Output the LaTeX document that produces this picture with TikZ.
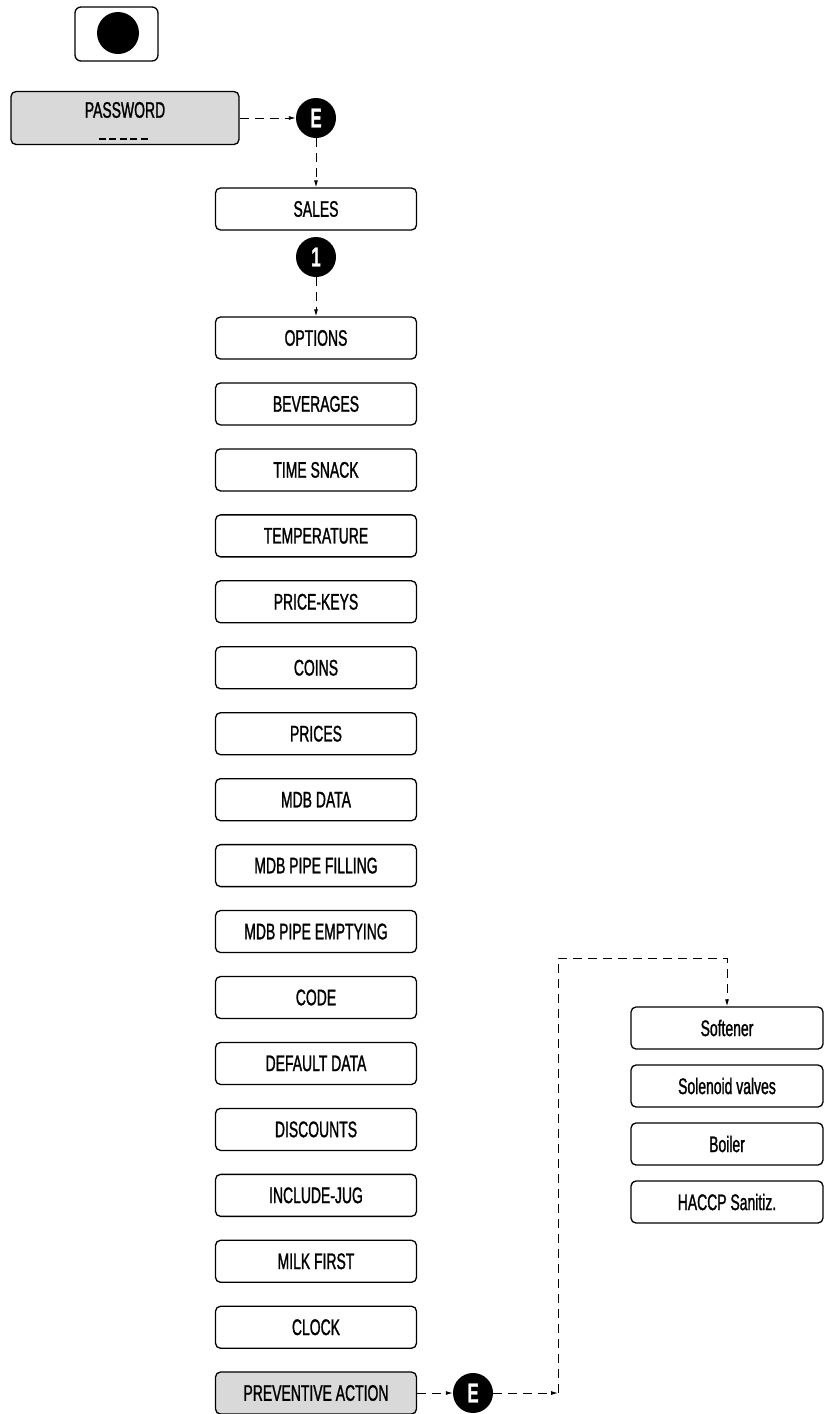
\documentclass[tikz,border=0pt]{standalone}
\usepackage{fontspec}
\setmainfont{Liberation Sans}[FakeStretch=0.62, FakeBold=1.2]
\usetikzlibrary{arrows.meta}

\tikzset{
  menubox/.style={draw, line width=1.3pt, rounded corners=5pt, minimum width=201pt,
    minimum height=42pt, inner sep=0pt, font=\fontsize{22.5}{26}\selectfont},
  selbox/.style={menubox, fill=gray!30},
  keydot/.style={circle, fill=black, text=white, minimum size=40pt, inner sep=0pt,
    font=\fontsize{27}{28}\selectfont\bfseries},
  link/.style={dash pattern=on 9pt off 6pt, line width=0.9pt, ->}
}

\begin{document}
\begin{tikzpicture}[x=1pt, y=-1pt, >={Latex[length=7pt,width=4pt]}]
  \useasboundingbox (0,0) rectangle (825,1414);

  % key at the top
  \node[draw, line width=1.3pt, rounded corners=6pt, minimum width=83pt, minimum height=54pt] (btn) at (116.5,34) {};
  \node[circle, fill=black, minimum size=42pt, inner sep=0pt] (btndot) at (118,33) {};

  % password
  \node[selbox, minimum width=228pt, minimum height=53pt] (pass) at (125,118) {};
  \node[font=\fontsize{22.5}{26}\selectfont] (passtxt) at (125,110) {PASSWORD};
  \node[inner sep=0pt] (passdash) at (125,139)
    {\foreach \k in {1,...,5}{\rule{7pt}{2.6pt}\hspace{3.5pt}}\hspace{-3.5pt}};
  \node[keydot] (e1) at (316,118) {E};
  \draw[link] (pass) -- (e1);

  \node[menubox] (sales) at (316,209) {SALES};
  \draw[link] (e1) -- (sales);
  \node[keydot] (k1) at (316,257) {1};

  % menu list
  \foreach \txt [count=\i] in {OPTIONS, BEVERAGES, TIME SNACK, TEMPERATURE, PRICE-KEYS,
      COINS, PRICES, MDB DATA, MDB PIPE FILLING, MDB PIPE EMPTYING, CODE, DEFAULT DATA,
      DISCOUNTS, INCLUDE-JUG, MILK FIRST, CLOCK}
    \node[menubox] (m\i) at (316,{338+65.95*(\i-1)}) {\txt};
  \node[selbox] (m17) at (316,1393) {PREVENTIVE ACTION};
  \draw[link] (k1) -- (m1);

  % preventive action submenu
  \foreach \txt [count=\i] in {Softener, Solenoid valves, Boiler, HACCP Sanitiz.}
    \node[menubox, minimum width=192pt] (r\i) at (727,{1028+58*(\i-1)}) {\txt};

  \node[keydot] (e2) at (473,1393) {E};
  \coordinate (c1) at (558,1393);
  \coordinate (c2) at (558,958);
  \draw[link] (m17) -- (e2);
  \draw[link] (e2) -- (c1);
  \draw[link] (c1) -- (c2) -| (r1.north);
\end{tikzpicture}
\end{document}
